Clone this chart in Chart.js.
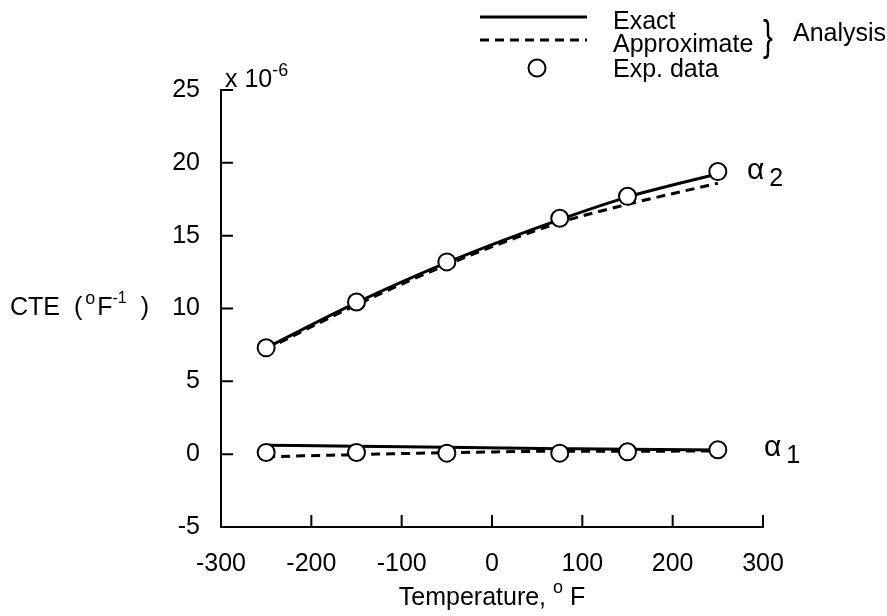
<!DOCTYPE html>
<html><head><meta charset="utf-8">
<script src="https://cdn.jsdelivr.net/npm/chart.js@4.4.0/dist/chart.umd.min.js"></script>
<style>html,body{margin:0;padding:0;background:#fff;}#wrap{width:887px;height:616px;}</style>
</head><body><div id="wrap"><canvas id="c" width="887" height="616"></canvas></div>
<script>
// Temperatures (deg F)
const temperatures = [-250, -150, -50, 75, 150, 250];
// Experimental data (x 10^-6 /F)
const expAlpha2 = [7.3, 10.45, 13.2, 16.2, 17.7, 19.4];
const expAlpha1 = [0.12, 0.12, 0.07, 0.07, 0.16, 0.3];
// Analysis curves
const exactAlpha2 = [7.3, 10.4, 13.15, 16.1, 17.65, 19.25];
const approxAlpha2 = [7.2, 10.25, 13.0, 15.9, 17.15, 18.6];
const exactAlpha1 = [0.62, 0.55, 0.47, 0.38, 0.33, 0.28];
const approxAlpha1 = [-0.18, -0.03, 0.1, 0.2, 0.2, 0.22];
// Axis ticks
const xTickValues = [-300, -200, -100, 0, 100, 200, 300];
const yTickValues = [-5, 0, 5, 10, 15, 20, 25];

const FONT = "'Liberation Sans', Arial, Helvetica, sans-serif";
const pts = (xs, ys) => xs.map((x, i) => ({x, y: ys[i]}));

function lineDs(data, dashed) {
  return {
    data: pts(temperatures, data), showLine: true, borderColor: '#000',
    borderWidth: 3, borderDash: dashed ? [9, 6] : [], pointRadius: 0,
    cubicInterpolationMode: 'monotone', fill: false, order: 2
  };
}
function pointDs(data) {
  return {
    data: pts(temperatures, data), showLine: false, pointRadius: 8.5,
    pointBackgroundColor: '#fff', pointBorderColor: '#000', pointBorderWidth: 2,
    order: 1
  };
}

function drawRich(ctx, x, y, parts) {
  let cx = x;
  for (const p of parts) {
    ctx.font = (p.size || 25) + 'px ' + FONT;
    ctx.fillText(p.t, cx, y + (p.dy || 0));
    cx += ctx.measureText(p.t).width + (p.gap || 0);
  }
}

const inwardTicks = {
  id: 'inwardTicks',
  beforeDatasetsDraw(chart) {
    const {ctx, chartArea} = chart;
    const xs = chart.scales.x, ys = chart.scales.y;
    ctx.save();
    ctx.strokeStyle = '#000'; ctx.lineWidth = 2;
    ctx.beginPath();
    xTickValues.forEach(v => {
      if (v === xs.min) return;
      const px = xs.getPixelForValue(v);
      ctx.moveTo(px, chartArea.bottom); ctx.lineTo(px, chartArea.bottom - 12);
    });
    yTickValues.forEach(v => {
      if (v === ys.min) return;
      const py = ys.getPixelForValue(v);
      ctx.moveTo(chartArea.left, py); ctx.lineTo(chartArea.left + 12, py);
    });
    ctx.stroke();
    ctx.restore();
  }
};

const texts = {
  id: 'texts',
  afterDraw(chart) {
    const {ctx} = chart;
    ctx.save();
    ctx.fillStyle = '#000'; ctx.strokeStyle = '#000';
    ctx.textBaseline = 'alphabetic'; ctx.textAlign = 'left';
    // y axis title
    drawRich(ctx, 10, 315, [
      {t: 'CTE'}, {t: '  (', gap: 3}, {t: 'o', size: 18, dy: -11, gap: 2},
      {t: 'F'}, {t: '-1', size: 16, dy: -12, gap: 14}, {t: ')'}
    ]);
    // x axis title
    ctx.font = '25px ' + FONT;
    const w1 = ctx.measureText('Temperature, ').width;
    ctx.font = '18px ' + FONT;
    const w2 = ctx.measureText('o').width;
    ctx.font = '25px ' + FONT;
    const w3 = ctx.measureText(' F').width;
    const cx = (chart.chartArea.left + chart.chartArea.right) / 2;
    drawRich(ctx, cx - (w1 + w2 + w3) / 2, 605, [
      {t: 'Temperature, '}, {t: 'o', size: 18, dy: -12}, {t: ' F'}
    ]);
    // multiplier
    drawRich(ctx, 225, 87, [{t: 'x 10'}, {t: '-6', size: 18, dy: -11}]);
    // curve labels
    drawRich(ctx, 747, 179, [{t: 'α', size: 30, gap: 5}, {t: '2', size: 25, dy: 7}]);
    drawRich(ctx, 764, 456, [{t: 'α', size: 30, gap: 5}, {t: '1', size: 25, dy: 7}]);
    // legend
    ctx.lineWidth = 3;
    ctx.setLineDash([]);
    ctx.beginPath(); ctx.moveTo(480, 17); ctx.lineTo(587, 17); ctx.stroke();
    ctx.setLineDash([9, 6]);
    ctx.beginPath(); ctx.moveTo(480, 40); ctx.lineTo(587, 40); ctx.stroke();
    ctx.setLineDash([]);
    ctx.lineWidth = 2;
    ctx.beginPath(); ctx.arc(537, 68, 8.5, 0, Math.PI * 2);
    ctx.fillStyle = '#fff'; ctx.fill(); ctx.stroke();
    ctx.fillStyle = '#000';
    ctx.font = '25px ' + FONT;
    ctx.fillText('Exact', 613, 29);
    ctx.fillText('Approximate', 613, 52);
    ctx.fillText('Exp. data', 613, 77);
    ctx.save();
    ctx.translate(763, 50);
    ctx.scale(0.7, 1);
    ctx.font = '42px ' + FONT;
    ctx.fillText('}', 0, 0);
    ctx.restore();
    ctx.font = '25px ' + FONT;
    ctx.fillText('Analysis', 793, 41);
    ctx.restore();
  }
};

new Chart(document.getElementById('c'), {
  type: 'scatter',
  data: {
    datasets: [
      lineDs(exactAlpha2, false), lineDs(approxAlpha2, true),
      lineDs(exactAlpha1, false), lineDs(approxAlpha1, true),
      pointDs(expAlpha2), pointDs(expAlpha1)
    ]
  },
  options: {
    responsive: false, animation: false, devicePixelRatio: 1,
    layout: {padding: {top: 90, right: 124, left: 0, bottom: 0}},
    plugins: {legend: {display: false}, tooltip: {enabled: false}},
    scales: {
      x: {
        type: 'linear', min: -300, max: 300,
        afterBuildTicks: s => { s.ticks = xTickValues.map(v => ({value: v})); },
        afterFit: s => { s.height = 89; },
        ticks: {color: '#000', font: {family: FONT, size: 25}, padding: 14, maxRotation: 0},
        grid: {display: false},
        border: {display: true, color: '#000', width: 2}
      },
      y: {
        type: 'linear', min: -5, max: 25,
        afterBuildTicks: s => { s.ticks = yTickValues.map(v => ({value: v})); },
        afterFit: s => { s.width = 221; },
        ticks: {color: '#000', font: {family: FONT, size: 25}, padding: 13},
        grid: {display: false},
        border: {display: true, color: '#000', width: 2}
      }
    }
  },
  plugins: [inwardTicks, texts]
});
</script></body></html>
